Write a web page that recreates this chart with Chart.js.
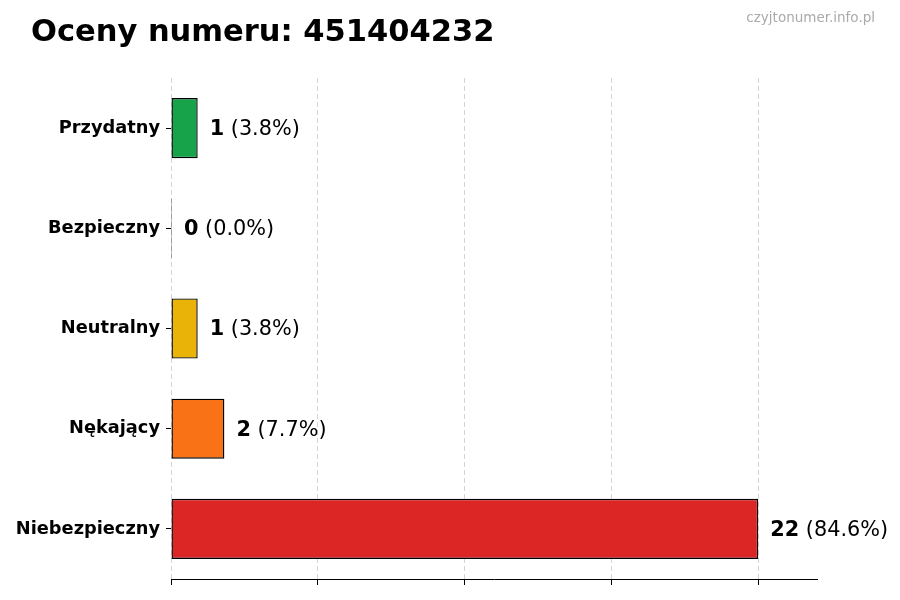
<!DOCTYPE html>
<html>
<head>
<meta charset="utf-8">
<script src="https://cdn.jsdelivr.net/npm/chart.js@4/dist/chart.umd.min.js"></script>
<style>
  html, body { margin: 0; padding: 0; background: #fff; }
  #wrap { width: 900px; height: 600px; }
</style>
</head>
<body>
<div id="wrap"><canvas id="canvas" width="900" height="600"></canvas></div>
<script>
const categories = ['Przydatny', 'Bezpieczny', 'Neutralny', 'Nękający', 'Niebezpieczny'];
const counts = [1, 0, 1, 2, 22];
const barColors = ['#16a34a', '#3b82f6', '#eab308', '#f97316', '#dc2626'];
const xTicks = [0, 5.5, 11, 16.5, 22];
const xMax = 24.2;
const titleText = 'Oceny numeru: 451404232';
const sourceText = 'czyjtonumer.info.pl';

const FONT = "'DejaVu Sans', sans-serif";
const total = counts.reduce((a, b) => a + b, 0);

// title + watermark
const headerPlugin = {
    id: 'header',
    afterDraw(chart) {
        const ctx = chart.ctx;
        ctx.save();
        ctx.fillStyle = '#000';
        ctx.font = 'bold 30.5px ' + FONT;
        ctx.textAlign = 'left';
        ctx.textBaseline = 'alphabetic';
        ctx.fillText(titleText, 31, 41);
        ctx.fillStyle = '#aaaaaa';
        ctx.font = '13.5px ' + FONT;
        ctx.textAlign = 'right';
        ctx.fillText(sourceText, 875, 22);
        ctx.restore();
    }
};

// "N (x.x%)" next to every bar
const valueLabels = {
    id: 'valueLabels',
    afterDatasetsDraw(chart) {
        const ctx = chart.ctx;
        const meta = chart.getDatasetMeta(0);
        ctx.save();
        ctx.textBaseline = 'middle';
        ctx.textAlign = 'left';
        ctx.fillStyle = '#000';
        meta.data.forEach((bar, i) => {
            const v = counts[i];
            const pct = total ? (v / total * 100).toFixed(1) : '0.0';
            let x = Math.max(bar.x, bar.base) + 12;
            const y = bar.y + 1.5;
            ctx.font = 'bold 20.8px ' + FONT;
            const num = String(v);
            ctx.fillText(num, x, y);
            x += ctx.measureText(num).width;
            ctx.font = '20.8px ' + FONT;
            ctx.fillText(' (' + pct + '%)', x, y);
        });
        ctx.restore();
    }
};

const myChart = new Chart(
    document.getElementById('canvas'),
    {
        type: 'bar',
        data: {
            labels: categories,
            datasets: [
                {
                    data: counts,
                    backgroundColor: barColors,
                    borderColor: '#000',
                    borderWidth: 1.4,
                    borderSkipped: false,
                    barPercentage: 0.6,
                    categoryPercentage: 1.0,
                    minBarLength: 1
                }
            ]
        },
        options: {
            indexAxis: 'y',
            responsive: false,
            animation: false,
            devicePixelRatio: 1,
            layout: {
                padding: { left: 0, top: 78, right: 83, bottom: 0 }
            },
            plugins: {
                legend: { display: false },
                tooltip: { enabled: false }
            },
            scales: {
                x: {
                    min: 0,
                    max: xMax,
                    z: 1,
                    afterBuildTicks: (scale) => {
                        scale.ticks = xTicks.map(v => ({ value: v }));
                    },
                    afterFit: (scale) => { scale.height = 21; },
                    ticks: { display: false },
                    grid: {
                        color: 'rgba(0,0,0,0.17)',
                        lineWidth: 1,
                        drawTicks: true,
                        tickLength: 6,
                        tickColor: '#000',
                        tickWidth: 1,
                        tickBorderDash: []
                    },
                    border: {
                        display: true,
                        color: '#000',
                        width: 1,
                        dash: [5, 3]
                    }
                },
                y: {
                    afterFit: (scale) => { scale.width = 171; },
                    ticks: {
                        color: '#000',
                        padding: 6,
                        font: { family: FONT, size: 17.8, weight: 'bold' }
                    },
                    grid: {
                        display: true,
                        drawOnChartArea: false,
                        offset: false,
                        drawTicks: true,
                        tickLength: 5,
                        tickColor: '#000',
                        color: '#000'
                    },
                    border: { display: false }
                }
            }
        },
        plugins: [headerPlugin, valueLabels]
    }
);
</script>
</body>
</html>
